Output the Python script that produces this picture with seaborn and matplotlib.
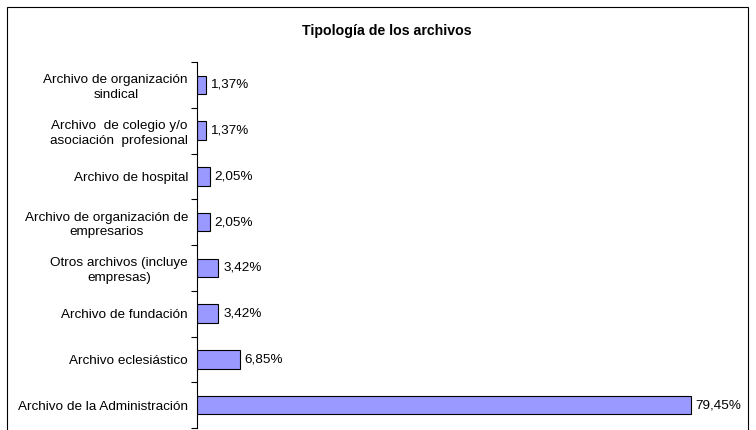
import matplotlib
matplotlib.use("Agg")
import matplotlib.pyplot as plt
import seaborn as sns
import pandas as pd
import numpy as np
from matplotlib.patches import Rectangle

categories = [
    "Archivo de organización\nsindical",
    "Archivo  de colegio y/o\nasociación  profesional",
    "Archivo de hospital",
    "Archivo de organización de\nempresarios",
    "Otros archivos (incluye\nempresas)",
    "Archivo de fundación",
    "Archivo eclesiástico",
    "Archivo de la Administración",
]
values = [1.37, 1.37, 2.05, 2.05, 3.42, 3.42, 6.85, 79.45]
labels = ["1,37%", "1,37%", "2,05%", "2,05%", "3,42%", "3,42%", "6,85%", "79,45%"]
title = "Tipología de los archivos"

sns.set_style("white")
plt.rcParams['font.family'] = ['Liberation Sans', 'DejaVu Sans']
plt.rcParams['text.color'] = 'black'
plt.rcParams['ytick.color'] = 'black'
plt.rcParams['ytick.labelcolor'] = 'black'

FS = 9.7

df = pd.DataFrame({"cat": categories, "val": values})

fig = plt.figure(figsize=(7.56, 4.30), dpi=100)
ax = fig.add_axes([197/756, 1 - 428/430, (694 - 197)/756, (428 - 62)/430])
sns.barplot(data=df, y="cat", x="val", order=categories, color="#9999FF",
            edgecolor="black", linewidth=0.8, width=0.4, saturation=1, ax=ax)

ax.set_xlim(0, 80)
ax.set_ylim(len(categories) - 0.5, -0.5)
ax.set_xlabel("")
ax.set_ylabel("")
for s in ["top", "right", "bottom"]:
    ax.spines[s].set_visible(False)
ax.spines["left"].set_color("black")
ax.spines["left"].set_linewidth(0.8)
ax.set_xticks([])
ax.set_yticks(range(len(categories)))
ax.set_yticklabels(categories, fontsize=FS, multialignment="center", linespacing=1.3, color="black")
ax.tick_params(axis="y", which="major", left=True, length=0, pad=6.5)
ax.set_yticks(np.arange(-0.5, len(categories), 1.0), minor=True)
ax.tick_params(axis="y", which="minor", left=True, length=4.5, width=0.8, direction="out", color="black")

for i, (v, lab) in enumerate(zip(values, labels)):
    ax.annotate(lab, xy=(v, i), xytext=(3.6, 0), textcoords="offset points",
                ha="left", va="center", fontsize=FS, color="black")

fig.text(387/756, 1 - 31/430, title, ha="center", va="center", fontsize=10.2,
         fontweight="bold", color="black")

fig.patches.append(Rectangle((7/756, -0.05), (748 - 7)/756, (1 - 7/430) + 0.05,
                             transform=fig.transFigure, fill=False,
                             edgecolor="black", linewidth=0.8))

fig.savefig("out.png", dpi=100)
